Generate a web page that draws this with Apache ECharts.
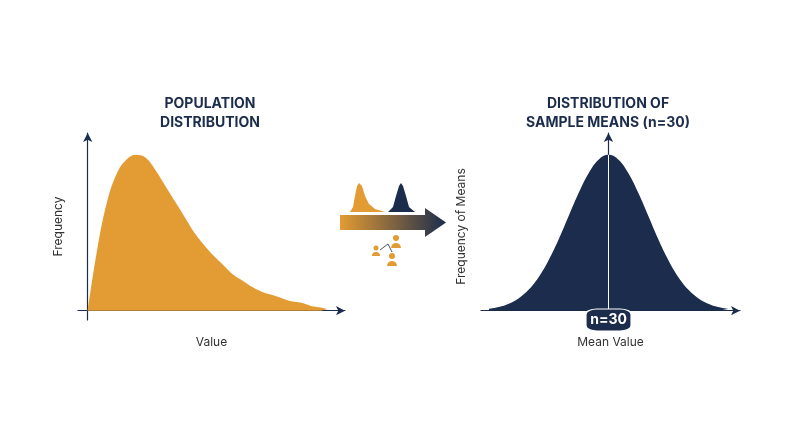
<!DOCTYPE html>
<html><head><meta charset="utf-8">
<script src="https://cdn.jsdelivr.net/npm/echarts@6/dist/echarts.min.js"></script>
<style>html,body{margin:0;background:#fff}#c{width:800px;height:447px}</style>
</head><body><div id="c"></div>
<script>
const popX = [0,1,2,3,4,5,6,7,8,9,10,11,12,13,14,15,16,17,18,19,20,21,22,23,24,24.7];
const popY = [0,40,70,88,97,100,98,90,80,70,60,50,42,35,29,23,19,15,12,10,8,6,5,3,2,1];
const meanX = [-120,-110,-100,-90,-80,-70,-60,-50,-40,-30,-20,-10,0,10,20,30,40,50,60,70,80,90,100,110,120];
const meanY = [1.1,2.3,4.4,8,13.5,21.6,32.5,45.8,60.7,75.5,88.2,96.9,100,96.9,88.2,75.5,60.7,45.8,32.5,21.6,13.5,8,4.4,2.3,1.1];
const titles = ['POPULATION\nDISTRIBUTION','DISTRIBUTION OF\nSAMPLE MEANS (n=30)'];
const axisNames = ['Value','Frequency','Mean Value','Frequency of Means'];
const nLabel = 'n=30';
const ORANGE='#E39B33', NAVY='#1B2C4C';
const ax = {axisLine:{show:true,symbol:['none','arrow'],symbolSize:[7,9],lineStyle:{color:NAVY,width:1.2}},
  axisTick:{show:false},axisLabel:{show:false},splitLine:{show:false},
  nameLocation:'middle',nameTextStyle:{color:'#333',fontSize:12,fontFamily:'Inter'}};
const chart = echarts.init(document.getElementById('c'));
const half = (cx,cy,r)=>({type:'sector',shape:{cx:cx,cy:cy,r:r,startAngle:Math.PI,endAngle:2*Math.PI},style:{fill:ORANGE}});
chart.setOption({
  animation:false,
  grid:[{left:78,width:267,top:133,height:187},{left:481,width:259,top:133,height:187}],
  xAxis:[Object.assign({type:'value',gridIndex:0,min:-1,max:26.5,name:axisNames[0],nameGap:16},ax),
         Object.assign({type:'value',gridIndex:1,min:-128,max:132,name:axisNames[2],nameGap:16},ax)],
  yAxis:[Object.assign({type:'value',gridIndex:0,min:-6,max:114,name:axisNames[1],nameGap:14},ax),
         Object.assign({type:'value',gridIndex:1,min:-6,max:114,name:axisNames[3],nameGap:14},ax)],
  series:[
    {type:'line',xAxisIndex:0,yAxisIndex:0,data:popX.map((x,i)=>[x,popY[i]]),smooth:0.4,symbol:'none',
     lineStyle:{width:0},areaStyle:{color:ORANGE,opacity:1}},
    {type:'line',xAxisIndex:1,yAxisIndex:1,data:meanX.map((x,i)=>[x,meanY[i]]),smooth:0.4,symbol:'none',
     lineStyle:{width:0},areaStyle:{color:NAVY,opacity:1},
     markLine:{silent:true,symbol:'none',label:{show:false},lineStyle:{color:'#fff',width:1,type:'solid'},data:[[{coord:[0,0]},{coord:[0,100]}]]},
     markPoint:{symbol:'roundRect',symbolSize:[46,22],data:[{coord:[0,-6]}],itemStyle:{color:NAVY,borderColor:'#fff',borderWidth:1.5},
       label:{show:true,formatter:nLabel,color:'#fff',fontWeight:'bold',fontSize:14,fontFamily:'Inter'}}}
  ],
  graphic:[
    {type:'text',style:{text:titles[0],x:210,y:94,textAlign:'center',fill:NAVY,font:'bold 14px Inter',lineHeight:19}},
    {type:'text',style:{text:titles[1],x:608,y:94,textAlign:'center',fill:NAVY,font:'bold 14px Inter',lineHeight:19}},
    {type:'polygon',shape:{points:[[340,215],[425,215],[425,208],[446,222.5],[425,237],[425,230],[340,230]]},
     style:{fill:new echarts.graphic.LinearGradient(0,0,1,0,[{offset:0,color:ORANGE},{offset:1,color:NAVY}])}},
    {type:'polygon',shape:{points:[[350,212],[353,207],[355,196],[357,186],[359,183],[362,186],[365,196],[369,204],[375,209],[385,212]]},style:{fill:ORANGE}},
    {type:'polygon',shape:{points:[[388,212],[393,207],[396,196],[399,186],[401,183],[403,186],[406,196],[409,207],[415,212]]},style:{fill:NAVY}},
    {type:'circle',shape:{cx:396,cy:238,r:3},style:{fill:ORANGE}},
    half(396,248,5),
    {type:'circle',shape:{cx:392,cy:256,r:3},style:{fill:ORANGE}},
    half(392,266,5),
    {type:'circle',shape:{cx:376,cy:248,r:2.5},style:{fill:ORANGE}},
    half(376,256,4),
    {type:'polyline',shape:{points:[[380,250],[388,244],[392,252]]},style:{stroke:NAVY,lineWidth:0.8,fill:null}}
  ]
});
</script></body></html>
